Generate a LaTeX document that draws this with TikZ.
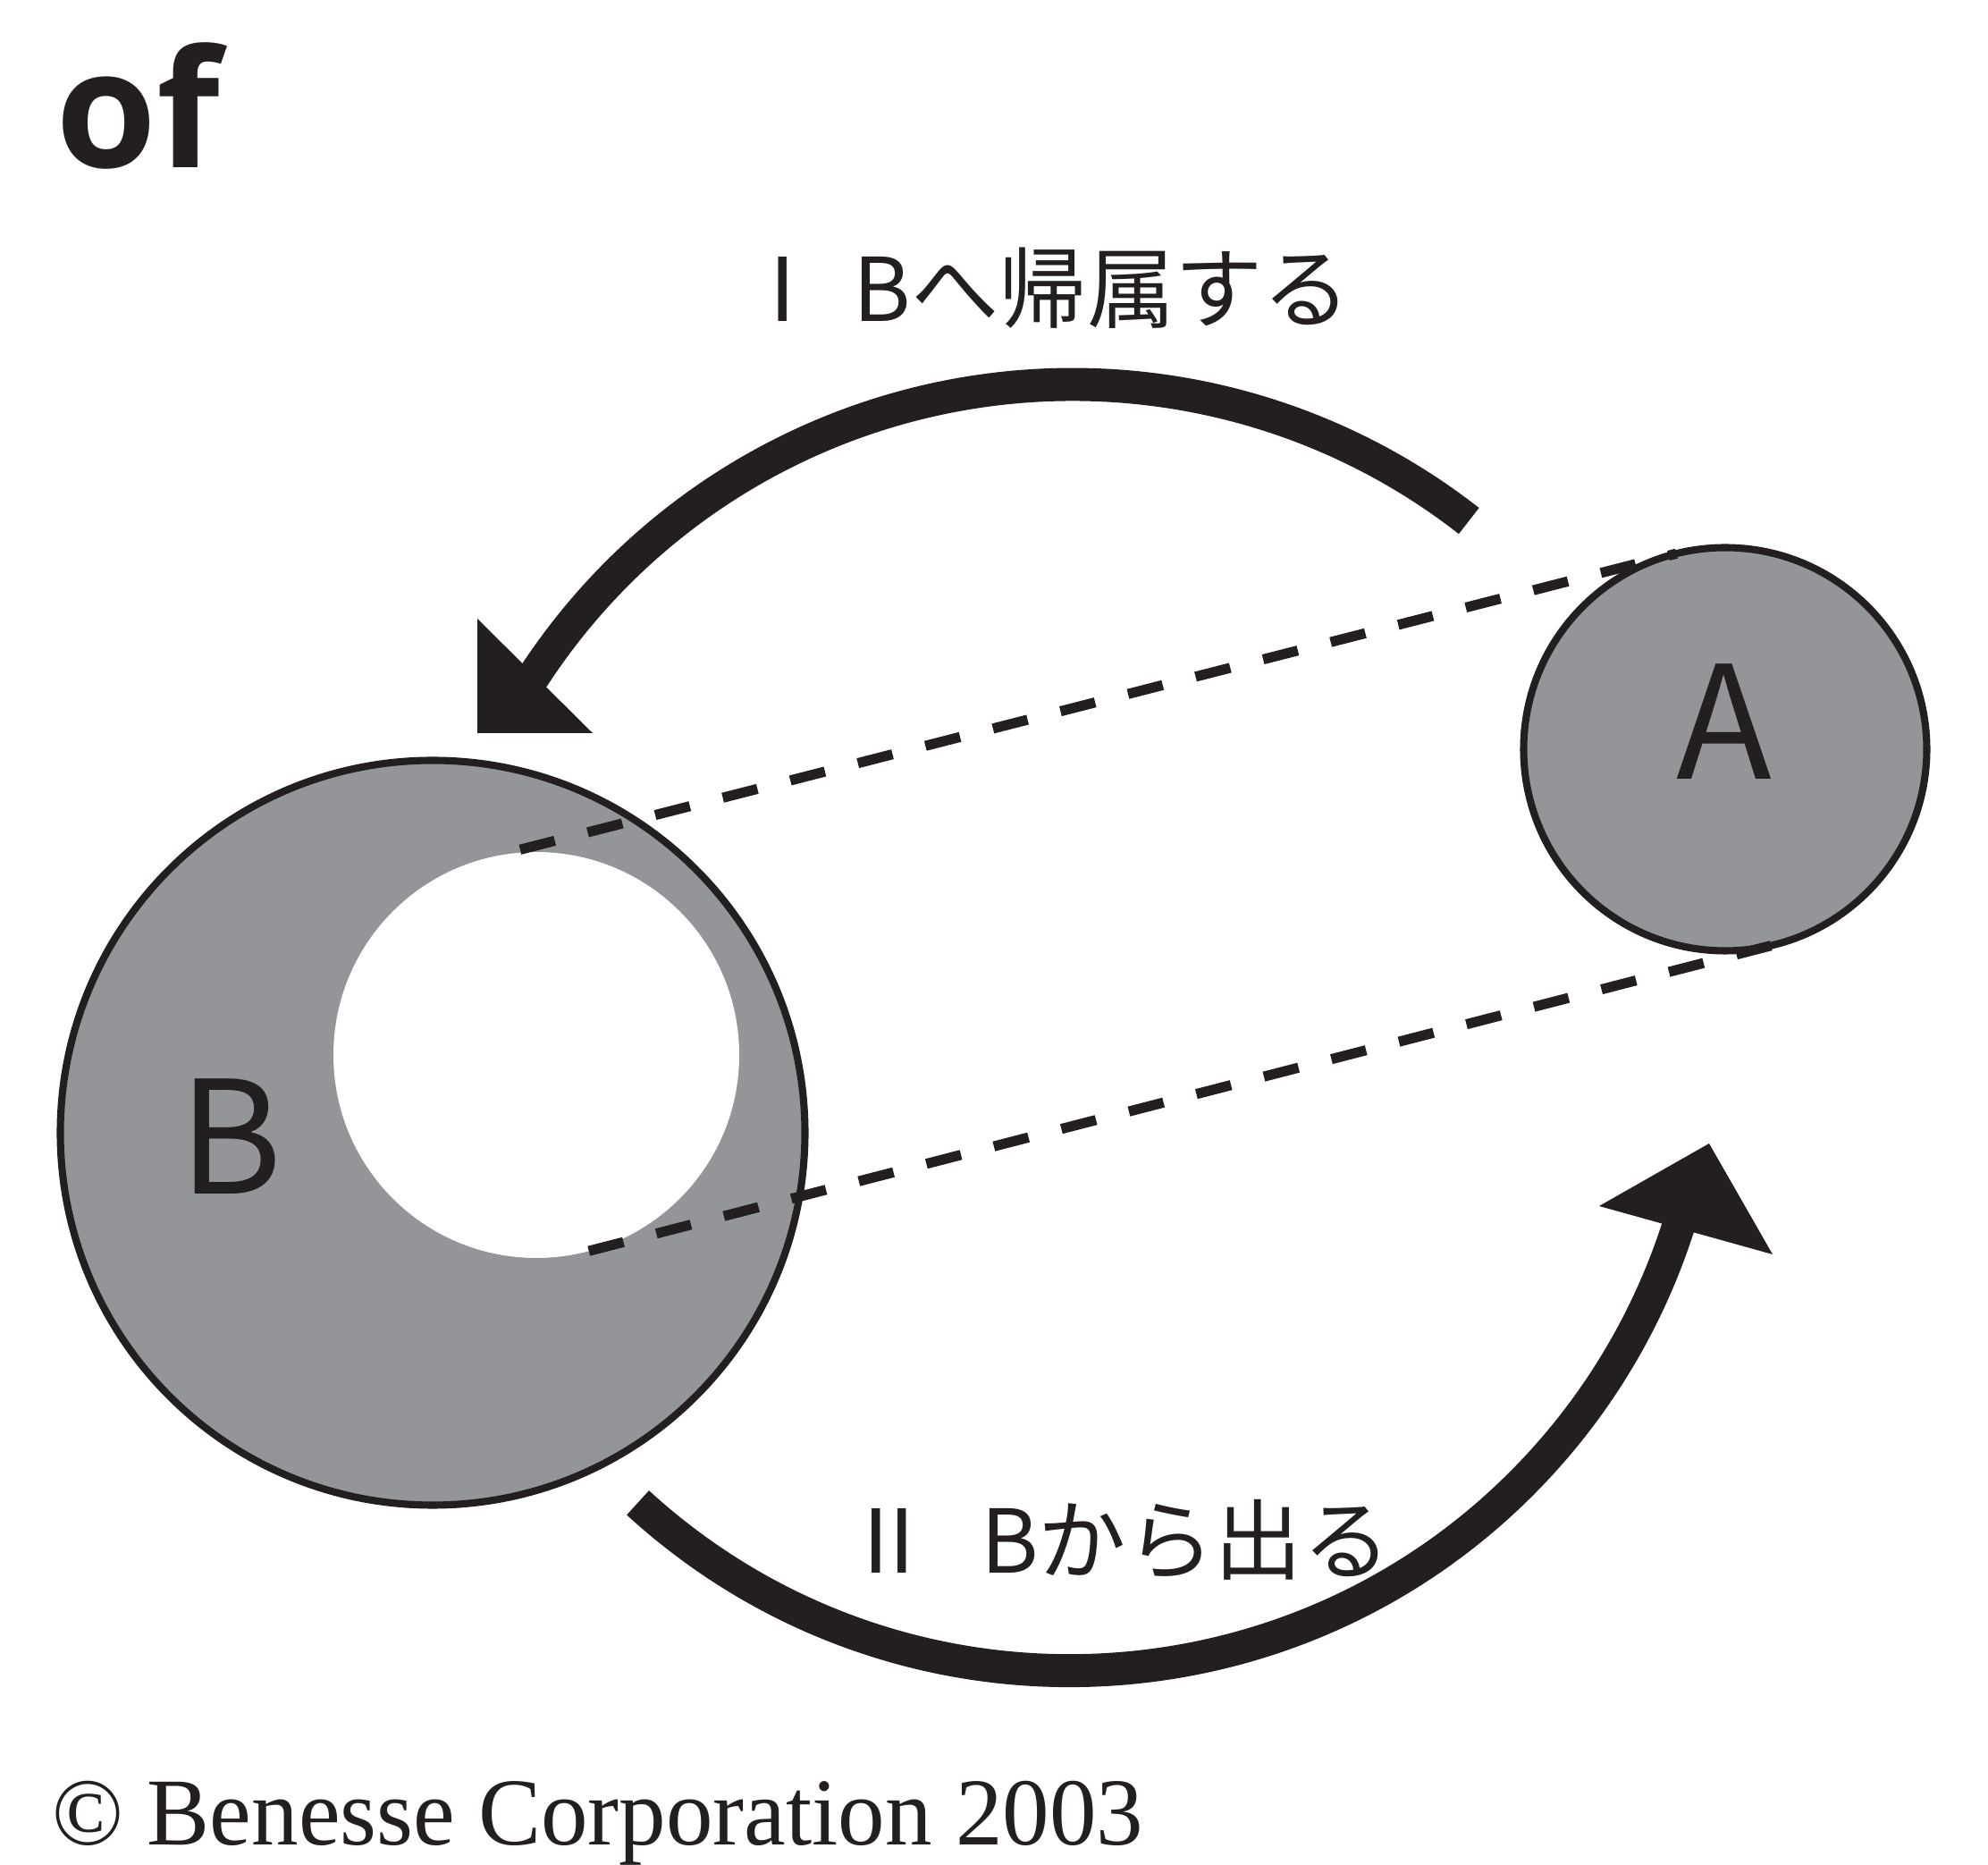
\documentclass[tikz,border=0pt]{standalone}
\usepackage{fontspec}
\setmainfont{Liberation Serif}
\newfontfamily\cjk{Noto Sans CJK JP}
\newfontfamily\headfont{Open Sans}
\usetikzlibrary{calc}

\definecolor{ink}{HTML}{231F20}
\definecolor{disc}{HTML}{939598}

\tikzset{
  setshape/.style={circle, draw=ink, fill=disc, line width=2.3pt, inner sep=0pt, outer sep=0pt},
  holeshape/.style={circle, fill=white, inner sep=0pt, outer sep=0pt},
  dashline/.style={ink, line width=3.2pt, dash pattern=on 0.4cm off 0.38cm},
  shaft/.style={ink, line width=10.5pt},
  tag/.style={inner sep=0pt, text=ink, font=\cjk\fontsize{28pt}{28pt}\selectfont},
  letter/.style={inner sep=0pt, text=ink, font=\cjk\fontsize{50pt}{50pt}\selectfont},
}

\begin{document}
\begin{tikzpicture}
  \useasboundingbox (0,0) rectangle (22.24,20.86);

  % Heading
  \node[anchor=base west, inner sep=0pt, text=ink, font=\headfont\bfseries\fontsize{52pt}{52pt}\selectfont] (head) at (0.62,18.98) {of};

  % Set B (grey ring with a white hole) and set A
  \node[setshape, minimum size=8.33cm] (B) at (4.84,8.19) {};
  \node[holeshape, minimum size=4.54cm] (hole) at (6.00,9.06) {};
  \node[setshape, minimum size=4.51cm] (A) at (19.30,12.48) {};
  \node[letter, anchor=base] (Blabel) at (2.58,7.50) {B};
  \node[letter, anchor=base] (Alabel) at (19.29,12.14) {A};

  % Common tangents of the hole and A
  \draw[dashline, dash phase=0.4cm] (hole.104.4) -- (A.104.4);
  \draw[dashline] (hole.-75.6) -- (A.-75.6);

  % Both arrows sit on one circle round the pivot
  \coordinate (pivot) at (12.00,9.36);

  % Arrow I: towards B
  \draw[shaft] ($(pivot)+(52:7.2)$) arc[start angle=52, end angle=148, radius=7.2];
  \coordinate (Itip) at (5.34,12.66);
  \fill[ink] (Itip) -- ++(0,1.28) -- ++(1.29,-1.28) -- cycle;

  % Arrow II: out of B
  \draw[shaft] ($(pivot)+(227.5:7.2)$) arc[start angle=227.5, end angle=344, radius=7.15];
  \coordinate (IItip) at (19.12,8.07);
  \fill[ink] (IItip) -- (17.89,7.37) -- (19.83,6.83) -- cycle;

  % Labels of the arrows
  \node[tag, anchor=base west] (Itext) at (8.26,17.26) {Ⅰ\hspace{0.3em}Bへ帰属する};
  \node[tag, anchor=base west] (IItext) at (9.45,3.26) {Ⅱ\hspace{0.54em}Bから出る};

  % Copyright line
  \node[anchor=base west, inner sep=0pt, text=ink, font=\fontsize{30.5pt}{30.5pt}\selectfont] (copy) at (0.58,0.22) {\scalebox{0.98}[1]{© Benesse Corporation 2003}};
\end{tikzpicture}
\end{document}
